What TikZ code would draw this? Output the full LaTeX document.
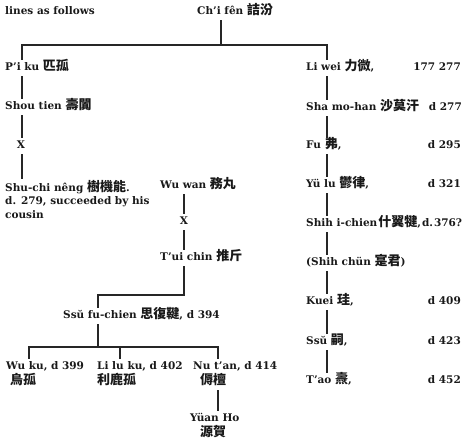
\documentclass[tikz,border=0pt]{standalone}
\usepackage{fontspec}
\setmainfont{DejaVu Serif}
\newfontfamily\cjkfont{Noto Sans CJK TC}
\newcommand{\zhtxt}[1]{{\cjkfont\bfseries\fontsize{13}{13}\selectfont #1}}
\begin{document}
\begin{tikzpicture}[x=1pt,y=-1pt,
  basetxt/.style={inner xsep=0pt,font=\bfseries\fontsize{10.5}{13.5}\selectfont,text=black!90},
  nm/.style={basetxt,anchor=west,inner ysep=3pt,text height=8pt,text depth=2.5pt},
  nmml/.style={basetxt,anchor=north west,align=left,inner ysep=1pt},
  dd/.style={basetxt,anchor=east,inner ysep=3pt,text height=8pt,text depth=2.5pt},
  ln/.style={line width=1.1pt,black!85}]
\useasboundingbox (0,0) rectangle (468,441);
% column coordinates
\coordinate (cL) at (22,0);
\coordinate (cF) at (221,0);
\coordinate (cW) at (184,0);
\coordinate (cS) at (98,0);
\coordinate (cR) at (327,0);
\coordinate (cA) at (29,0);
\coordinate (cB) at (120,0);
\coordinate (cC) at (218,0);
\coordinate (top) at (0,45);
\coordinate (mid) at (0,295);
\coordinate (low) at (0,347);
% nodes
\node[nm] (lines) at (5,12) {lines as follows};
\node[nm] (chifen) at (197,12) {Ch'i fên \zhtxt{詰汾}};
\node[nm] (pik) at (5,68) {P'i ku \zhtxt{匹孤}};
\node[nm] (shou) at (5,107) {Shou tien \zhtxt{壽闐}};
\node[nm,anchor=center] (x1) at (21,146) {X};
\node[nmml] (shuchi) at (5,179) {Shu-chi nêng \zhtxt{樹機能}.\\ d. 279, succeeded by his\\ cousin};
\node[nm] (wuwan) at (160,186) {Wu wan \zhtxt{務丸}};
\node[nm,anchor=center] (x2) at (184,222) {X};
\node[nm] (tuichin) at (160,258) {T'ui chin \zhtxt{推斤}};
\node[nm] (ssufu) at (63,316) {Ssŭ fu-chien \zhtxt{思復鞬}, d 394};
\node[nm] (wuku) at (6,367) {Wu ku, d 399};
\node[nm] (wukuc) at (10,382) {\zhtxt{烏孤}};
\node[nm] (liluku) at (97,367) {Li lu ku, d 402};
\node[nm] (lilukuc) at (97,382) {\zhtxt{利鹿孤}};
\node[nm] (nutan) at (193,367) {Nu t'an, d 414};
\node[nm] (nutanc) at (200,382) {\zhtxt{傉檀}};
\node[nm] (yuan) at (190,419) {Yüan Ho};
\node[nm] (yuanc) at (200,434) {\zhtxt{源賀}};
% right column
\node[nm] (liwei) at (306,68) {Li wei \zhtxt{力微},};
\node[dd] (liweid) at (461,68) {177 277};
\node[nm] (sha) at (306,108) {Sha mo-han \zhtxt{沙莫汗}};
\node[dd] (shad) at (462,108) {d 277};
\node[nm] (fu) at (306,146) {Fu \zhtxt{弗},};
\node[dd] (fud) at (461,146) {d 295};
\node[nm] (yulu) at (306,185) {Yü lu \zhtxt{鬱律},};
\node[dd] (yulud) at (461,185) {d 321};
\node[nm] (shih) at (306,224) {Shih i-chien\hspace{1pt}\zhtxt{什翼犍},\hspace{1pt}d.\hspace{1pt}376?};
\node[nm] (shihchun) at (306,263) {(Shih chün \zhtxt{寔君})};
\node[nm] (kuei) at (306,302) {Kuei \zhtxt{珪},};
\node[dd] (kueid) at (461,302) {d 409};
\node[nm] (ssu) at (306,342) {Ssŭ \zhtxt{嗣},};
\node[dd] (ssud) at (461,342) {d 423};
\node[nm] (tao) at (306,381) {T'ao \zhtxt{燾},};
\node[dd] (taod) at (461,381) {d 452};
% connectors
\draw[ln] (chifen.south -| cF) -- (top -| cF);
\draw[ln] (pik.north -| cL) -- (top -| cL) -- (top -| cR) -- (liwei.north -| cR);
\draw[ln] (pik.south -| cL) -- (shou.north -| cL);
\draw[ln] (shou.south -| cL) -- (x1.north -| cL);
\draw[ln] (x1.south -| cL) -- (shuchi.north -| cL);
\draw[ln] (wuwan.south -| cW) -- (x2.north -| cW);
\draw[ln] (x2.south -| cW) -- (tuichin.north -| cW);
\draw[ln] (tuichin.south -| cW) -- (mid -| cW) -- (mid -| cS) -- (ssufu.north -| cS);
\draw[ln] (ssufu.south -| cS) -- (low -| cS);
\draw[ln] (wuku.north -| cA) -- (low -| cA) -- (low -| cC) -- (nutan.north -| cC);
\draw[ln] (liluku.north -| cB) -- (low -| cB);
\draw[ln] (nutanc.south -| cC) -- (yuan.north -| cC);
\draw[ln] (liwei.south -| cR) -- (sha.north -| cR);
\draw[ln] (sha.south -| cR) -- (fu.north -| cR);
\draw[ln] (fu.south -| cR) -- (yulu.north -| cR);
\draw[ln] (yulu.south -| cR) -- (shih.north -| cR);
\draw[ln] (shih.south -| cR) -- (shihchun.north -| cR);
\draw[ln] (shihchun.south -| cR) -- (kuei.north -| cR);
\draw[ln] (kuei.south -| cR) -- (ssu.north -| cR);
\draw[ln] (ssu.south -| cR) -- (tao.north -| cR);
\end{tikzpicture}
\end{document}
